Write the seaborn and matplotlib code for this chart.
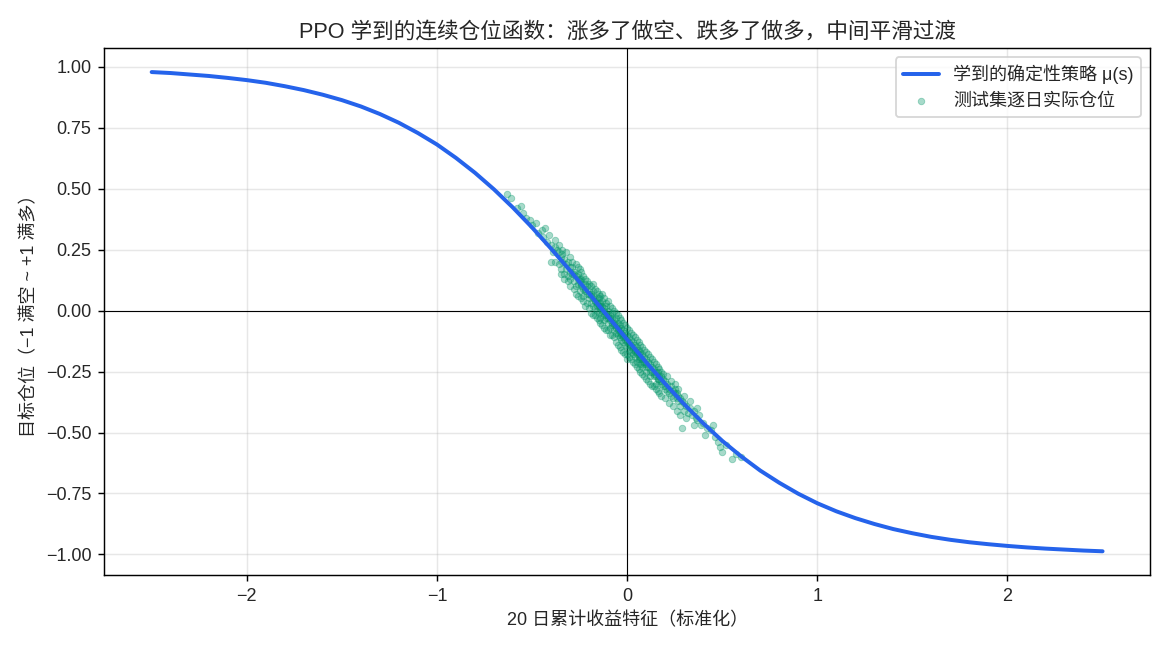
import matplotlib
matplotlib.use("Agg")
import matplotlib.pyplot as plt
import pandas as pd
import seaborn as sns

# learned deterministic policy mu(s)
curve_x = [-2.5, -2.4, -2.3, -2.2, -2.1, -2.0, -1.9, -1.8, -1.7, -1.6, -1.5, -1.4, -1.3,
           -1.2, -1.1, -1.0, -0.9, -0.8, -0.7, -0.6, -0.5, -0.4, -0.3, -0.2, -0.1, 0.0,
           0.1, 0.2, 0.3, 0.4, 0.5, 0.6, 0.7, 0.8, 0.9, 1.0, 1.1, 1.2, 1.3, 1.4, 1.5,
           1.6, 1.7, 1.8, 1.9, 2.0, 2.1, 2.2, 2.3, 2.4, 2.5]
curve_y = [0.978, 0.974, 0.968, 0.962, 0.954, 0.945, 0.934, 0.920, 0.904, 0.885, 0.863,
           0.837, 0.806, 0.770, 0.728, 0.681, 0.626, 0.565, 0.497, 0.422, 0.341, 0.254,
           0.164, 0.070, -0.025, -0.119, -0.212, -0.300, -0.384, -0.462, -0.534, -0.598,
           -0.656, -0.706, -0.751, -0.790, -0.823, -0.851, -0.875, -0.896, -0.913,
           -0.928, -0.940, -0.950, -0.958, -0.965, -0.971, -0.976, -0.980, -0.984, -0.987]

# test-set daily positions
test_x = [-0.63, -0.61, -0.58, -0.56, -0.55, -0.53, -0.51, -0.50, -0.48, -0.47, -0.45, -0.44,
          -0.43, -0.42, -0.41, -0.40, -0.39, -0.38, -0.38, -0.37,
          -0.36, -0.36, -0.35, -0.35, -0.34, -0.34, -0.33, -0.33, -0.32, -0.32, -0.31, -0.31,
          -0.30, -0.30, -0.30, -0.29, -0.29, -0.28, -0.28, -0.27, -0.27, -0.26, -0.26, -0.25,
          -0.25, -0.25, -0.24, -0.24, -0.23, -0.23, -0.22, -0.22, -0.21, -0.21, -0.20, -0.20,
          -0.19, -0.19, -0.18, -0.18, -0.18, -0.17, -0.17, -0.16, -0.16, -0.16, -0.15, -0.15,
          -0.15, -0.14, -0.14, -0.14, -0.13, -0.13, -0.13, -0.12, -0.12, -0.12, -0.11, -0.11,
          -0.11, -0.10, -0.10, -0.10, -0.09, -0.09, -0.09, -0.08, -0.08, -0.08, -0.07, -0.07,
          -0.07, -0.06, -0.06, -0.06, -0.05, -0.05, -0.05, -0.04, -0.04, -0.04, -0.03, -0.03,
          -0.03, -0.02, -0.02, -0.02, -0.01, -0.01, -0.01, 0.00, 0.00, 0.00, 0.00,
          0.01, 0.01, 0.01, 0.02, 0.02, 0.02, 0.03, 0.03, 0.03, 0.04, 0.04, 0.04, 0.05, 0.05,
          0.05, 0.06, 0.06, 0.06, 0.07, 0.07, 0.07, 0.08, 0.08, 0.08, 0.09, 0.09, 0.10, 0.10,
          0.10, 0.11, 0.11, 0.12, 0.12, 0.12, 0.13, 0.13, 0.14, 0.14, 0.15, 0.15, 0.15, 0.16,
          0.16, 0.17, 0.17, 0.18, 0.18, 0.19, 0.19, 0.20, 0.20,
          0.21, 0.21, 0.22, 0.22, 0.23, 0.23, 0.24, 0.24, 0.25, 0.25, 0.26, 0.26, 0.27, 0.27,
          0.28, 0.28, 0.29, 0.29, 0.30, 0.30, 0.31, 0.32, 0.33, 0.34, 0.35, 0.36, 0.37, 0.38,
          0.39, 0.40,
          0.42, 0.44, 0.46, 0.48, 0.49, 0.52, 0.55, 0.57, 0.60,
          # wider spread around the curve
          -0.40, -0.38, -0.36, -0.35, -0.34, -0.33, -0.32, -0.31, -0.30, -0.30, -0.29, -0.28,
          -0.27, -0.27, -0.26, -0.26, -0.25, -0.24, -0.24, -0.23, -0.23, -0.22, -0.22, -0.21,
          -0.21, -0.20, -0.20, -0.19, -0.19, -0.18, -0.18, -0.17, -0.17, -0.16, -0.16, -0.15,
          -0.15, -0.14, -0.14, -0.13, -0.13, -0.12, -0.12, -0.11, -0.11, -0.10, -0.10, -0.09,
          -0.09, -0.08, -0.08, -0.07, -0.07, -0.06, -0.06, -0.05, -0.05, -0.04, -0.04, -0.03,
          -0.03, -0.02, -0.02, -0.01, -0.01, 0.00, 0.00, 0.01, 0.01, 0.02, 0.02, 0.03, 0.03,
          0.04, 0.04, 0.05, 0.05, 0.06, 0.06, 0.07, 0.07, 0.08, 0.08, 0.09, 0.09, 0.10, 0.10,
          0.11, 0.11, 0.12, 0.12, 0.13, 0.13, 0.14, 0.14, 0.15, 0.15, 0.16, 0.16, 0.17, 0.17,
          0.18, 0.18, 0.19, 0.20, 0.21, 0.22, 0.23, 0.24, 0.25, 0.26, 0.27, 0.28, 0.30, 0.31,
          0.33, 0.35, 0.37, 0.41, 0.45, 0.50,
          # dense core on the curve
          -0.28, -0.26, -0.24, -0.22, -0.20, -0.19, -0.18, -0.17, -0.16, -0.15, -0.14, -0.13,
          -0.12, -0.11, -0.10, -0.09, -0.08, -0.07, -0.06, -0.05, -0.04, -0.03, -0.02, -0.01,
          0.00, 0.01, 0.02, 0.03, 0.04, 0.05, 0.06, 0.07, 0.08, 0.09, 0.10, 0.12, 0.14, 0.16,
          0.18, 0.20]
test_y = [0.48, 0.46, 0.42, 0.43, 0.40, 0.38, 0.37, 0.35, 0.36, 0.32, 0.33, 0.30,
          0.34, 0.28, 0.31, 0.27, 0.24, 0.20, 0.26, 0.25,
          0.24, 0.19, 0.22, 0.17, 0.23, 0.20, 0.21, 0.15, 0.19, 0.17, 0.20, 0.14,
          0.18, 0.13, 0.16, 0.15, 0.18, 0.12, 0.16, 0.14, 0.10, 0.15, 0.11, 0.13,
          0.08, 0.12, 0.10, 0.13, 0.09, 0.06, 0.11, 0.08, 0.07, 0.10, 0.05, 0.08,
          0.07, 0.03, 0.06, 0.02, 0.08, 0.04, 0.01, 0.05, 0.02, 0.00, 0.03, -0.01,
          0.05, 0.01, 0.03, -0.03, 0.02, -0.01, 0.04, -0.02, 0.01, -0.04, -0.01, -0.03,
          0.02, -0.02, -0.05, 0.00, -0.04, -0.02, -0.07, -0.03, -0.06, -0.01, -0.05, -0.08,
          -0.04, -0.06, -0.09, -0.03, -0.07, -0.10, -0.05, -0.08, -0.11, -0.06, -0.09, -0.12,
          -0.07, -0.10, -0.13, -0.08, -0.11, -0.14, -0.09, -0.12, -0.15, -0.10, -0.20,
          -0.13, -0.11, -0.16, -0.14, -0.12, -0.17, -0.15, -0.13, -0.18, -0.16, -0.14, -0.19,
          -0.17, -0.15, -0.21, -0.18, -0.16, -0.20, -0.19, -0.17, -0.22, -0.20, -0.18, -0.23,
          -0.21, -0.19, -0.22, -0.20, -0.25, -0.23, -0.21, -0.24, -0.22, -0.27, -0.25, -0.23,
          -0.26, -0.24, -0.27, -0.25, -0.30, -0.28, -0.25, -0.29, -0.27, -0.30, -0.27, -0.31,
          -0.28, -0.31, -0.29,
          -0.30, -0.33, -0.32, -0.34, -0.31, -0.35, -0.33, -0.36, -0.34, -0.32, -0.36, -0.34,
          -0.37, -0.35, -0.36, -0.39, -0.48, -0.37, -0.38, -0.41, -0.39, -0.42, -0.40, -0.43,
          -0.41, -0.44, -0.45, -0.43, -0.47, -0.46,
          -0.48, -0.49, -0.52, -0.54, -0.56, -0.55, -0.61, -0.59, -0.60,
          # wider spread around the curve
          0.20, 0.29, 0.27, 0.15, 0.25, 0.13, 0.24, 0.12, 0.22, 0.10, 0.20, 0.09,
          0.19, 0.07, 0.18, 0.06, 0.17, 0.05, 0.16, 0.14, 0.04, 0.13, 0.02, 0.12,
          0.03, 0.11, 0.01, 0.10, -0.01, 0.11, -0.02, 0.09, -0.02, 0.08, -0.03, 0.07,
          -0.04, 0.06, -0.05, 0.07, -0.06, 0.05, -0.07, 0.03, -0.08, 0.04, -0.08, 0.02,
          -0.10, 0.01, -0.10, 0.00, -0.11, -0.01, -0.13, -0.02, -0.14, -0.03, -0.15, -0.04,
          -0.16, -0.05, -0.17, -0.06, -0.18, -0.07, -0.18, -0.08, -0.19, -0.09, -0.20, -0.10,
          -0.21, -0.11, -0.22, -0.12, -0.23, -0.13, -0.24, -0.14, -0.25, -0.15, -0.26, -0.16,
          -0.27, -0.17, -0.28, -0.18, -0.29, -0.19, -0.30, -0.20, -0.31, -0.21, -0.31, -0.22,
          -0.32, -0.23, -0.33, -0.24, -0.34, -0.25, -0.35, -0.26, -0.36, -0.27, -0.38, -0.29,
          -0.39, -0.30, -0.41, -0.32, -0.43, -0.35, -0.44,
          -0.37, -0.47, -0.40, -0.51, -0.47, -0.58,
          # dense core on the curve
          0.15, 0.13, 0.11, 0.09, 0.07, 0.06, 0.05, 0.04, 0.03, 0.02, 0.02, 0.00,
          0.00, -0.02, -0.03, -0.03, -0.05, -0.06, -0.07, -0.08, -0.09, -0.10, -0.11, -0.12,
          -0.13, -0.14, -0.15, -0.16, -0.17, -0.18, -0.19, -0.20, -0.21, -0.22, -0.23, -0.25,
          -0.27, -0.28, -0.29, -0.32]

title = "PPO 学到的连续仓位函数：涨多了做空、跌多了做多，中间平滑过渡"
x_label = "20 日累计收益特征（标准化）"
y_label = "目标仓位（−1 满空 ~ +1 满多）"
curve_label = "学到的确定性策略 μ(s)"
scatter_label = "测试集逐日实际仓位"


def main():
    sns.set_style("white")
    plt.rcParams['font.family'] = ['Liberation Sans', 'Noto Sans CJK SC', 'DejaVu Sans']
    plt.rcParams['axes.unicode_minus'] = True

    curve_df = pd.DataFrame({"x": curve_x, "y": curve_y})
    test_df = pd.DataFrame({"x": test_x, "y": test_y})

    fig, ax = plt.subplots(figsize=(9, 5), dpi=130)
    fig.subplots_adjust(left=0.089, right=0.983, top=0.926, bottom=0.115)

    sns.scatterplot(data=test_df, x="x", y="y", ax=ax, color="#059669", alpha=0.35, s=13,
                    edgecolor="#059669", linewidth=0.5, label=scatter_label, zorder=2)
    sns.lineplot(data=curve_df, x="x", y="y", ax=ax, color="#2563eb", linewidth=2.2,
                 sort=False, estimator=None, label=curve_label, zorder=3)

    ax.axhline(0, color="black", linewidth=0.6, zorder=1)
    ax.axvline(0, color="black", linewidth=0.6, zorder=1)
    ax.grid(True, color="#b0b0b0", alpha=0.3, linewidth=0.8)
    ax.set_axisbelow(True)

    ax.set_title(title, fontsize=12)
    ax.set_xlabel(x_label, fontsize=10)
    ax.set_ylabel(y_label, fontsize=10)
    ax.tick_params(axis="both", labelsize=10, length=3.5, width=0.8, direction="out",
                   left=True, bottom=True, color="black")
    for s in ax.spines.values():
        s.set_linewidth(0.8)
        s.set_color("black")

    handles, labels = ax.get_legend_handles_labels()
    order = [labels.index(curve_label), labels.index(scatter_label)]
    ax.legend([handles[i] for i in order], [labels[i] for i in order],
              loc="upper right", fontsize=10, frameon=True)

    plt.savefig("out.png", dpi=130)


if __name__ == "__main__":
    main()
